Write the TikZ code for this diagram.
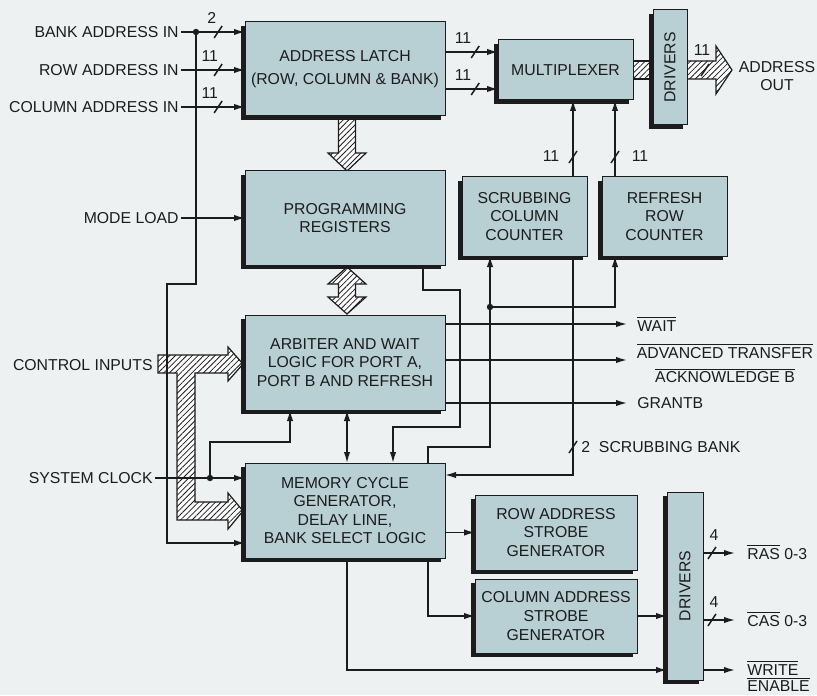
\documentclass[tikz,border=0pt]{standalone}
\usepackage{fontspec}
\setmainfont{Liberation Sans}
\usetikzlibrary{arrows.meta,calc,shadows,patterns.meta}

\definecolor{paper}{RGB}{238,241,242}
\definecolor{boxblue}{RGB}{184,207,212}
\definecolor{ink}{RGB}{28,28,30}

\tikzset{
  blk/.style={draw=ink, line width=0.5pt, fill=boxblue, text=ink, align=center,
    inner sep=1pt, outer sep=0pt, font=\fontsize{7.9}{9.3}\selectfont,
    drop shadow={shadow xshift=-1.8pt, shadow yshift=-1.8pt, fill=ink, opacity=1}},
  lbl/.style={text=ink, inner sep=1pt, font=\fontsize{7.9}{9.3}\selectfont},
  bus/.style={text=ink, inner sep=0pt, font=\fontsize{7.9}{9.3}\selectfont},
  wire/.style={draw=ink, line width=0.75pt},
  hatch/.style={draw=ink, line width=0.6pt, preaction={fill=white},
    pattern={Lines[angle=45,distance=2pt,line width=0.4pt]}, pattern color=ink},
  busmark/.pic={\draw[wire,-] (-4,6) -- (4,-6);}
}

\begin{document}
\begin{tikzpicture}[x=0.5pt, y=-0.5pt, >={Latex[length=5.5pt,width=3.2pt]}]
    % 1. Paper and frame
    \fill[paper] (0,0) rectangle (817,695);
    \useasboundingbox (0,0) rectangle (817,695);

    % 2. Hatched buses
    \draw[hatch] (338.5,117) -- (338.5,153) -- (328,153) -- (347,171) -- (366,153) -- (355.5,153) -- (355.5,117) -- cycle;
    \draw[hatch] (347,267) -- (366,284) -- (355.5,284) -- (355.5,297) -- (366,297) -- (347,314)
        -- (328,297) -- (338.5,297) -- (338.5,284) -- (328,284) -- cycle;
    \draw[hatch] (158,355) -- (228,355) -- (228,347) -- (243,364) -- (228,381) -- (228,373) -- (195,373)
        -- (195,502) -- (228,502) -- (228,493) -- (243,511) -- (228,529) -- (228,520) -- (177,520)
        -- (177,373) -- (158,373) -- cycle;
    \draw[hatch] (633,61) rectangle (653,79);
    \draw[hatch] (687,61) -- (716,61) -- (716,46) -- (732,70) -- (716,94) -- (716,79) -- (687,79) -- cycle;

    % 3. Blocks
    \node[blk, minimum width=100pt, minimum height=47pt] (latch) at (345,69) {ADDRESS LATCH\\[2pt](ROW, COLUMN \& BANK)};
    \node[blk, minimum width=100pt, minimum height=47pt] (progreg) at (345,218) {PROGRAMMING\\REGISTERS};
    \node[blk, minimum width=100pt, minimum height=47.5pt] (arbiter) at (345,362.5) {ARBITER AND WAIT\\LOGIC FOR PORT A,\\PORT B AND REFRESH};
    \node[blk, minimum width=100pt, minimum height=47.5pt] (mcg) at (345,510.5) {MEMORY CYCLE\\GENERATOR,\\DELAY LINE,\\BANK SELECT LOGIC};
    \node[blk, minimum width=67.5pt, minimum height=30pt] (mux) at (565.5,70) {MULTIPLEXER};
    \node[blk, minimum width=17pt, minimum height=57.5pt] (drvtop) at (670,67.5) {\rotatebox{90}{DRIVERS}};
    \node[blk, minimum width=62.5pt, minimum height=39.5pt] (scrub) at (524.5,216.5) {SCRUBBING\\COLUMN\\COUNTER};
    \node[blk, minimum width=62.5pt, minimum height=39.5pt] (refresh) at (664.5,216.5) {REFRESH\\ROW\\COUNTER};
    \node[blk, minimum width=81pt, minimum height=37.5pt] (rasg) at (556,532.5) {ROW ADDRESS\\STROBE\\GENERATOR};
    \node[blk, minimum width=81pt, minimum height=37pt] (casg) at (556,616) {COLUMN ADDRESS\\STROBE\\GENERATOR};
    \node[blk, minimum width=18pt, minimum height=94pt] (drvbot) at (685,586) {\rotatebox{90}{DRIVERS}};

    % 4. Signal names
    \node[lbl, anchor=east] (bankin) at (181,32) {BANK ADDRESS IN};
    \node[lbl, anchor=east] (rowin) at (181,70) {ROW ADDRESS IN};
    \node[lbl, anchor=east] (colin) at (181,107) {COLUMN ADDRESS IN};
    \node[lbl, anchor=east] (modeld) at (181,218) {MODE LOAD};
    \node[lbl, anchor=east] (ctrlin) at (155,365) {CONTROL INPUTS};
    \node[lbl, anchor=east] (sysclk) at (155,478) {SYSTEM CLOCK};
    \node[lbl, align=center] (addrout) at (777,76) {ADDRESS\\OUT};
    \node[lbl, anchor=west] (wait) at (635,324) {$\overline{\hbox{WAIT}}$};
    \node[lbl, align=center] (advtr) at (725,363) {$\overline{\hbox{ADVANCED TRANSFER}}$\\[3pt]$\overline{\hbox{ACKNOWLEDGE B}}$};
    \node[lbl, anchor=west] (grantb) at (635,403) {GRANTB};
    \node[lbl, anchor=west] (sbank) at (579,447) {2~~SCRUBBING BANK};
    \node[lbl, anchor=west] (ras) at (745,552) {$\overline{\hbox{RAS}}$ 0-3};
    \node[lbl, anchor=west] (cas) at (745,619) {$\overline{\hbox{CAS}}$ 0-3};
    \node[lbl, anchor=west, align=left] (wren) at (745,676) {$\overline{\hbox{WRITE}}$\\[-1pt]$\overline{\hbox{ENABLE}}$};

    % 5. Address inputs
    \coordinate (bdot) at ($(bankin.east)+(15,0)$);
    \draw[wire,->] (bankin.east) -- (bankin.east -| latch.west) pic[pos=.58]{busmark} node[bus,pos=.48,above=4pt] (w2) {2};
    \draw[wire,->] (rowin.east) -- (rowin.east -| latch.west) pic[pos=.58]{busmark} node[bus,pos=.45,above=4pt] (w11a) {11};
    \draw[wire,->] (colin.east) -- (colin.east -| latch.west) pic[pos=.58]{busmark} node[bus,pos=.45,above=4pt] (w11b) {11};
    \draw[wire,->] (bdot) -- ++(0,252) -- ++(-29,0) |- ($(mcg.south west)+(0,-15)$);
    \draw[wire,->] (modeld.east) -- (modeld.east -| progreg.west);

    % 6. Clock
    \coordinate (clk) at ($(sysclk.east)+(55,0)$);
    \draw[wire,->] (sysclk.east) -- (sysclk.east -| mcg.west);
    \draw[wire,->] (clk) -- ++(0,-36) -| ($(arbiter.south west)+(45,0)$);

    % 7. Latch to multiplexer and counters
    \coordinate (lm1) at ($(latch.north east)+(0,30)$);
    \coordinate (lm2) at ($(latch.north east)+(0,67)$);
    \draw[wire,->] (lm1) -- (lm1 -| mux.west) pic[pos=.57]{busmark} node[bus,pos=.34,above=4pt] (w11c) {11};
    \draw[wire,->] (lm2) -- (lm2 -| mux.west) pic[pos=.57]{busmark} node[bus,pos=.34,above=4pt] (w11d) {11};
    \coordinate (smx) at ($(scrub.north east)+(-14,0)$);
    \coordinate (rmx) at ($(refresh.north west)+(13,0)$);
    \draw[wire,->] (smx) -- (smx |- mux.south) pic[pos=.26]{busmark} node[bus,pos=.27,left=6.5pt] (w11e) {11};
    \draw[wire,->] (rmx) -- (rmx |- mux.south) pic[pos=.26]{busmark} node[bus,pos=.27,right=8pt] (w11f) {11};
    \pic at (705,70) {busmark};
    \node[bus] (w11g) at (702,50) {11};

    % 8. Control paths
    \draw[wire,->] ($(progreg.south east)+(-22,0)$) -- ++(0,25) -- ++(37,0) -- ++(0,137) -| ($(mcg.north)+(48,0)$);
    \coordinate (mcgup) at ($(mcg.north east)+(-17,0)$);
    \coordinate (scin) at ($(scrub.south west)+(28,0)$);
    \coordinate (cdot) at ($(scin)+(0,51)$);
    \draw[wire,->] (mcgup) -- ++(0,-16) -| (scin);
    \draw[wire,->] (cdot) -| ($(refresh.south west)+(13,0)$);
    \coordinate (sbk) at ($(scrub.south east)+(-14,0)$);
    \draw[wire,->] (sbk) |- ($(mcg.north east)+(0,12)$) pic[pos=.436]{busmark};
    \draw[wire,<->] ($(arbiter.south)+(2,0)$) -- ($(mcg.north)+(2,0)$);

    % 9. Arbiter outputs
    \draw[wire,->] ($(arbiter.north east)+(0,9)$) -- ++(182,0);
    \draw[wire,->] ($(arbiter.north east)+(0,45)$) -- ++(182,0);
    \draw[wire,->] ($(arbiter.north east)+(0,88)$) -- ++(182,0);

    % 10. Strobes and drivers
    \draw[wire,->] (rasg.west -| mcg.east) -- (rasg.west);
    \draw[wire,->] ($(mcg.south east)+(-17,0)$) |- (casg.west);
    \draw[wire,->] ($(mcg.south)+(2,0)$) |- ($(drvbot.south west)+(0,-10)$);
    \draw[wire,->] (casg.east) -- (casg.east -| drvbot.west);
    \draw[wire,->] ($(drvbot.north east)+(0,61)$) -- ++(32,0) pic[pos=.28]{busmark} node[bus,pos=.34,above=6pt] (w4a) {4};
    \draw[wire,->] ($(drvbot.north east)+(0,128)$) -- ++(32,0) pic[pos=.28]{busmark} node[bus,pos=.34,above=6pt] (w4b) {4};
    \draw[wire,->] ($(drvbot.south east)+(0,-10)$) -- ++(32,0);

    % 11. Junction dots
    \fill[ink] (bdot) circle (1.6pt);
    \fill[ink] (clk) circle (1.6pt);
    \fill[ink] (cdot) circle (1.6pt);
\end{tikzpicture}
\end{document}
